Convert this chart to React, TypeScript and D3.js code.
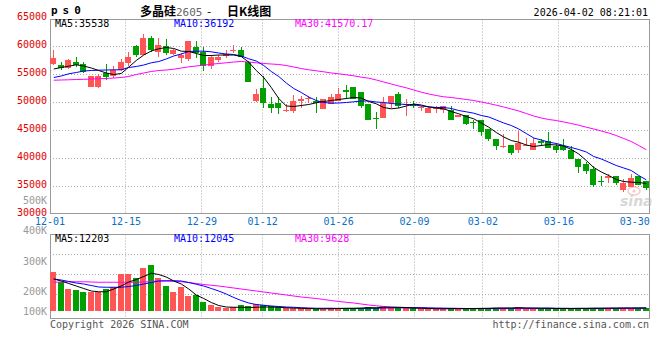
import React from 'react';
import * as d3 from 'd3';

const dates = [
  '12-01','12-02','12-03','12-04','12-05','12-08','12-09','12-10','12-11','12-12',
  '12-15','12-16','12-17','12-18','12-19','12-22','12-23','12-24','12-25','12-26',
  '12-29','12-30','12-31','01-05','01-06','01-07','01-08','01-09','01-12','01-13',
  '01-14','01-15','01-16','01-19','01-20','01-21','01-22','01-23','01-26','01-27',
  '01-28','01-29','01-30','02-02','02-03','02-04','02-05','02-06','02-09','02-10',
  '02-11','02-12','02-13','02-24','02-25','02-26','02-27','03-02','03-03','03-04',
  '03-05','03-06','03-09','03-10','03-11','03-12','03-13','03-16','03-17','03-18',
  '03-19','03-20','03-23','03-24','03-25','03-26','03-27','03-30','03-31','04-01'
];

const opens = [
  56964,56661,56125,57321,56964,52732,52857,55232,54696,55839,
  57018,60054,58571,61554,58982,60054,58625,57911,57679,60000,
  59107,56554,57554,58339,59161,59464,57196,50357,52500,49821,
  50000,48571,48571,50179,50536,50357,48804,49821,50357,52143,
  52679,51964,49821,47321,47143,50000,51607,49643,49643,48929,
  48161,48875,48750,48661,47500,47679,46607,46786,45179,43393,
  42018,42500,41429,42321,41607,43214,43036,42321,42321,41607,
  40000,39107,38214,35982,36429,36786,34464,35000,36786,35982
];
const highs = [
  59286,57197,57732,58036,57143,54643,55125,56839,56429,57732,
  59054,60179,62196,61964,61482,61250,59589,58804,61071,60893,
  60000,58518,58571,59464,60357,60000,57400,52446,54821,51071,
  50893,49643,51375,51250,51250,50946,50650,51554,52554,53036,
  52679,51964,49821,48268,51071,51250,51964,50714,50179,49464,
  49464,49464,49464,49464,47857,47679,46786,46786,45179,43393,
  44286,42500,45000,43750,43750,43393,44821,42857,43393,42143,
  40000,39464,38750,36786,37143,36964,36250,37143,36964,35982
];
const lows = [
  56732,55839,55946,56304,55232,52732,52554,54107,54411,55536,
  56482,58214,58571,59107,58214,58446,58393,57018,57500,57982,
  55589,55946,57197,57982,58804,58089,53625,50054,48929,48036,
  47911,48268,48214,48982,49875,48214,48804,49768,50357,50661,
  50714,48929,46964,45357,47143,48929,49107,47625,48929,48518,
  48161,48036,48214,46786,47411,46071,45357,43929,43214,41607,
  41964,40536,41071,42321,41607,42143,41964,41071,41340,40000,
  37500,37321,35000,35089,35536,35357,34107,35000,35179,34464
];
const closes = [
  57911,56196,57554,56732,55482,54643,54643,54518,55768,57321,
  58089,58571,61607,59411,60357,58804,59339,58393,60893,58804,
  56607,58036,58036,58696,59464,58089,53625,51429,49875,49054,
  49054,48750,50357,50536,50768,49875,50589,50893,51482,51786,
  50714,49286,46964,47143,50000,51250,49464,49821,49411,49161,
  49107,49054,49375,46964,47768,46250,46429,44821,43571,42143,
  42321,41071,42857,42500,42679,42768,41964,41607,41607,40000,
  38393,37857,35357,35804,36786,35536,35714,36607,35179,34643
];

const ma5 = [
  55982,56250,56482,56732,56518,56161,55714,55268,55000,55179,
  56339,57500,58482,59196,59589,59821,59643,59161,59107,58750,
  58393,58393,58482,58482,58482,58214,57196,55714,54464,52679,
  50714,49375,49286,49464,49643,49946,50179,50357,50536,50714,
  50893,50804,50179,49768,49107,48875,49018,49375,49732,49554,
  49196,49018,48875,48393,47982,47500,47089,46339,45589,44643,
  43839,43214,42911,42411,42143,42321,42500,42411,42232,41607,
  40804,39643,38393,37589,36964,36250,35893,35768,35714,35538
];
const ma10 = [
  54464,54732,55125,55357,55625,55714,55768,55804,55839,55839,
  56250,56429,56696,57089,57321,57768,58304,58661,59107,59161,
  59161,59054,58839,58661,58571,58304,57804,57411,56607,55536,
  54643,53482,52500,51786,50982,50357,50000,49875,49911,50000,
  50125,50268,50268,50089,50000,49821,49732,49643,49589,49375,
  49232,49107,49107,48929,48571,48339,48089,47679,47411,46875,
  46339,45893,45268,44464,43661,43304,42911,42679,42321,41964,
  41607,41161,40357,39911,39339,38750,38304,37857,36964,36192
];
const ma30 = [
  53980,54020,54055,54107,54140,54196,54250,54286,54375,54464,
  54643,55000,55268,55536,55714,55804,55946,56160,56375,56518,
  56660,56840,56964,57090,57232,57321,57232,57090,56964,56875,
  56786,56607,56340,56071,55840,55660,55482,55268,55125,54946,
  54768,54518,54340,54018,53660,53304,52946,52625,52232,51840,
  51518,51250,51018,50893,50714,50536,50357,50089,49821,49518,
  49196,48840,48482,48036,47590,47232,46964,46786,46518,46250,
  45946,45590,45268,44910,44554,44107,43571,43036,42321,41570
];

const volumes = [
  157000,115000,89000,84000,77000,76000,76000,88000,96000,148000,
  148000,133000,173000,184000,133000,100000,76000,96000,61000,64000,
  36000,24000,17000,12000,16000,24000,21000,28000,23000,20000,
  16000,13000,13000,11000,9000,7000,8000,11000,12000,12000,
  11000,12000,17000,11000,21000,13000,12000,11000,11000,9000,
  9000,9000,9000,11000,8000,9000,12000,12000,12000,12000,
  12000,12000,17000,8000,9000,9000,12000,9000,9000,11000,
  12000,9000,12000,12000,12000,12000,12000,12500,12000,12500
];
const volMa5 = [
  128000,120000,110000,100000,90000,80000,77000,77000,88000,100000,
  116000,126000,138000,151000,146000,136000,120000,108000,88000,64000,
  50000,34000,22000,16000,15000,15000,14000,15000,16000,16000,
  15000,13000,12000,11000,10000,9000,9000,9000,10000,11000,
  11000,12000,13000,13000,15000,15000,15000,14000,12000,11000,
  10000,9000,9000,9500,9500,9500,10000,10500,11000,12000,
  12000,12000,13000,12000,11500,11000,11000,10000,10000,10000,
  10500,10500,11000,11000,11500,11500,12000,12000,12000,12203
];
const volMa10 = [
  128000,124000,118000,112000,108000,102000,96000,95000,95000,95000,
  98000,102000,108000,114000,120000,121000,121000,120000,114000,107000,
  100000,90000,80000,68000,54000,42000,32000,26000,23000,20000,
  18000,16000,15000,13000,12000,11000,11000,11000,10500,10000,
  10000,10000,10500,11000,12000,12500,13000,13000,13000,13000,
  12500,12000,11500,11000,10500,10000,10000,10000,10000,10500,
  11000,11000,11500,11500,11500,11500,11500,11000,11000,10500,
  10500,10500,11000,11000,11000,11500,11500,11500,12000,12045
];
const volMa30 = [
  115000,116000,117000,117000,117000,116000,115000,115000,115000,115000,
  115000,115000,116000,118000,120000,120000,119000,117000,114000,110000,
  106000,103000,100000,96000,92000,88000,84000,80000,76000,72000,
  68000,64000,60000,56000,53000,50000,46000,42000,38000,35000,
  32000,28000,24000,21000,18000,16000,14000,13000,13000,12000,
  11000,9500,9500,9400,9300,9300,9200,9200,9200,9300,
  9300,9400,9500,9500,9500,9400,9400,9400,9500,9500,
  9500,9500,9500,9600,9600,9600,9600,9600,9600,9628
];

const priceTicks = [65000, 60000, 55000, 50000, 45000, 40000, 35000, 30000];
const volTickValues = [500000, 400000, 300000, 200000, 100000];
const volTickLabels = ['500K', '400K', '300K', '200K', '100K'];
const dateTicks = ['12-01', '12-15', '12-29', '01-12', '01-26', '02-09', '03-02', '03-16', '03-30'];

const UP = '#ff5555';
const DOWN = '#00a000';
const MONO = '"DejaVu Sans Mono", "Liberation Mono", monospace';
const CJK = '"Noto Sans CJK SC", sans-serif';

export default function App() {
  const left = 50;
  const right = 650;
  const n = dates.length;
  const xBand = d3.scaleBand<number>().domain(d3.range(n)).range([left, right]);
  const bw = xBand.bandwidth();
  const cx = (i: number) => (xBand(i) as number) + bw / 2;
  const gridX = d3.scaleLinear().domain([0, n - 1]).range([left, right]);
  const yP = d3.scaleLinear().domain([30000, 65000]).range([214.5, 18.5]);
  const yV = d3.scaleLinear().domain([0, 100000]).range([311, 286]);
  const yVLabel = d3.scaleLinear().domain([100000, 200000, 500000]).range([311, 291, 200]);

  const priceLine = d3.line<number>().x((_, i) => cx(i)).y((d) => yP(d));
  const volLine = d3.line<number>().x((_, i) => cx(i)).y((d) => yV(d));

  const tickIdx = dateTicks.map((t) => dates.indexOf(t));
  const mainTop = 19.5, mainBottom = 213.5;
  const volTop = 234.5, volBottom = 318.5;
  const volGrid = [1, 2, 3].map((k) => volTop + k * 20);

  return (
    <svg width={660} height={360} style={{ position: 'fixed', left: 0, top: 0, background: '#fff' }}
      fontFamily={MONO}>
      <rect x={0} y={0} width={660} height={360} fill="#fff" />
      {/* header */}
      <text x={51} y={14} fontSize={11} fontWeight="bold" letterSpacing={5} fill="#000">ps0</text>
      <text x={140} y={16} fontSize={12} fontFamily={CJK} fontWeight="bold" fill="#000">多晶硅</text>
      <text x={176} y={16} fontSize={11} fill="#666">2605</text>
      <text x={207} y={16} fontSize={12} fontFamily={CJK} fill="#000">-</text>
      <text x={227} y={16} fontSize={12} fontFamily={CJK} fontWeight="bold" fill="#000">日K线图</text>
      <text x={648} y={16} fontSize={10} textAnchor="end" fill="#000">2026-04-02 08:21:01</text>

      {/* main grid */}
      {priceTicks.slice(1, -1).map((p) => (
        <line key={p} x1={left} x2={right - 1} y1={Math.floor(yP(p)) + 0.5} y2={Math.floor(yP(p)) + 0.5}
          stroke="#aaa" strokeDasharray="1,2" />
      ))}
      {tickIdx.slice(1, -1).map((i) => (
        <line key={'gv' + i} x1={Math.floor(gridX(i)) + 0.5} x2={Math.floor(gridX(i)) + 0.5}
          y1={mainTop} y2={mainBottom} stroke="#aaa" strokeDasharray="1,2" />
      ))}
      <rect x={50.5} y={mainTop} width={599} height={mainBottom - mainTop} fill="none" stroke="#999" />

      {/* price labels */}
      {priceTicks.map((p) => (
        <text key={'pl' + p} x={47} y={Math.floor(yP(p)) + 1.5} fontSize={10} textAnchor="end" fill="#e00000">{p}</text>
      ))}
      {volTickValues.map((v, k) => (
        <text key={'vl' + v} x={47} y={yVLabel(v) + 4} fontSize={10} textAnchor="end" fill="#999">{volTickLabels[k]}</text>
      ))}

      {/* date labels */}
      {tickIdx.map((i, k) => (
        <text key={'dl' + i} x={gridX(i)} y={224.5} fontSize={10} textAnchor="middle" fill="#0a70c8">{dateTicks[k]}</text>
      ))}

      {/* watermark */}
      <g opacity={0.55}>
        <ellipse cx={634} cy={191} rx={6} ry={4} fill="none" stroke="#f0a0a0" strokeWidth={1.5} />
        <circle cx={634} cy={191} r={1.6} fill="#f0a0a0" />
        <text x={620} y={206} fontSize={14} fontStyle="italic" fontWeight="bold"
          fontFamily='"DejaVu Sans", sans-serif' fill="#b8b8b8">sina</text>
      </g>

      {/* candles */}
      {closes.map((c, i) => {
        const o = opens[i];
        const up = c >= o;
        const col = up ? UP : DOWN;
        const x0 = Math.floor(cx(i) - 3);
        const top = Math.round(yP(Math.max(o, c)));
        const bot = Math.round(yP(Math.min(o, c)));
        const wx = Math.floor(cx(i)) + 0.5;
        return (
          <g key={'c' + i}>
            <line x1={wx} x2={wx} y1={Math.round(yP(highs[i]))} y2={Math.round(yP(lows[i]))} stroke={col} />
            <rect x={x0} y={top} width={6} height={Math.max(1, bot - top)} fill={col} />
          </g>
        );
      })}

      {/* MA lines */}
      <path d={priceLine(ma30) || ''} fill="none" stroke="#ff00ff" strokeWidth={1} />
      <path d={priceLine(ma10) || ''} fill="none" stroke="#0000ff" strokeWidth={1} />
      <path d={priceLine(ma5) || ''} fill="none" stroke="#000" strokeWidth={1} />

      {/* main legend */}
      <text x={55} y={27} fontSize={10} fill="#000">MA5:{ma5[n - 1]}</text>
      <text x={174} y={27} fontSize={10} fill="#0000ff">MA10:{ma10[n - 1]}</text>
      <text x={295} y={27} fontSize={10} fill="#ff00ff">MA30:41570.17</text>

      {/* volume panel */}
      {volGrid.map((y) => (
        <line key={'vg' + y} x1={left} x2={right - 1} y1={y} y2={y} stroke="#aaa" strokeDasharray="1,2" />
      ))}
      {tickIdx.slice(1, -1).map((i) => (
        <line key={'vv' + i} x1={Math.floor(gridX(i)) + 0.5} x2={Math.floor(gridX(i)) + 0.5}
          y1={volTop} y2={volBottom} stroke="#aaa" strokeDasharray="1,2" />
      ))}
      <rect x={50.5} y={volTop} width={599} height={volBottom - volTop} fill="none" stroke="#999" />

      {volumes.map((v, i) => {
        const up = closes[i] >= opens[i];
        const top = Math.round(yV(v));
        return (
          <rect key={'v' + i} x={Math.floor(cx(i) - 3)} y={top} width={6} height={Math.max(1, yV(0) - top)}
            fill={up ? UP : DOWN} />
        );
      })}
      <path d={volLine(volMa30) || ''} fill="none" stroke="#ff00ff" strokeWidth={1} />
      <path d={volLine(volMa10) || ''} fill="none" stroke="#0000ff" strokeWidth={1} />
      <path d={volLine(volMa5) || ''} fill="none" stroke="#000" strokeWidth={1} />

      <text x={55} y={242} fontSize={10} fill="#000">MA5:{volMa5[n - 1]}</text>
      <text x={174} y={242} fontSize={10} fill="#0000ff">MA10:{volMa10[n - 1]}</text>
      <text x={295} y={242} fontSize={10} fill="#ff00ff">MA30:{volMa30[n - 1]}</text>

      {/* footer */}
      <text x={50} y={328} fontSize={10} fill="#555">Copyright 2026 SINA.COM</text>
      <text x={649} y={328} fontSize={10} textAnchor="end" fill="#555">http://finance.sina.com.cn</text>
    </svg>
  );
}
